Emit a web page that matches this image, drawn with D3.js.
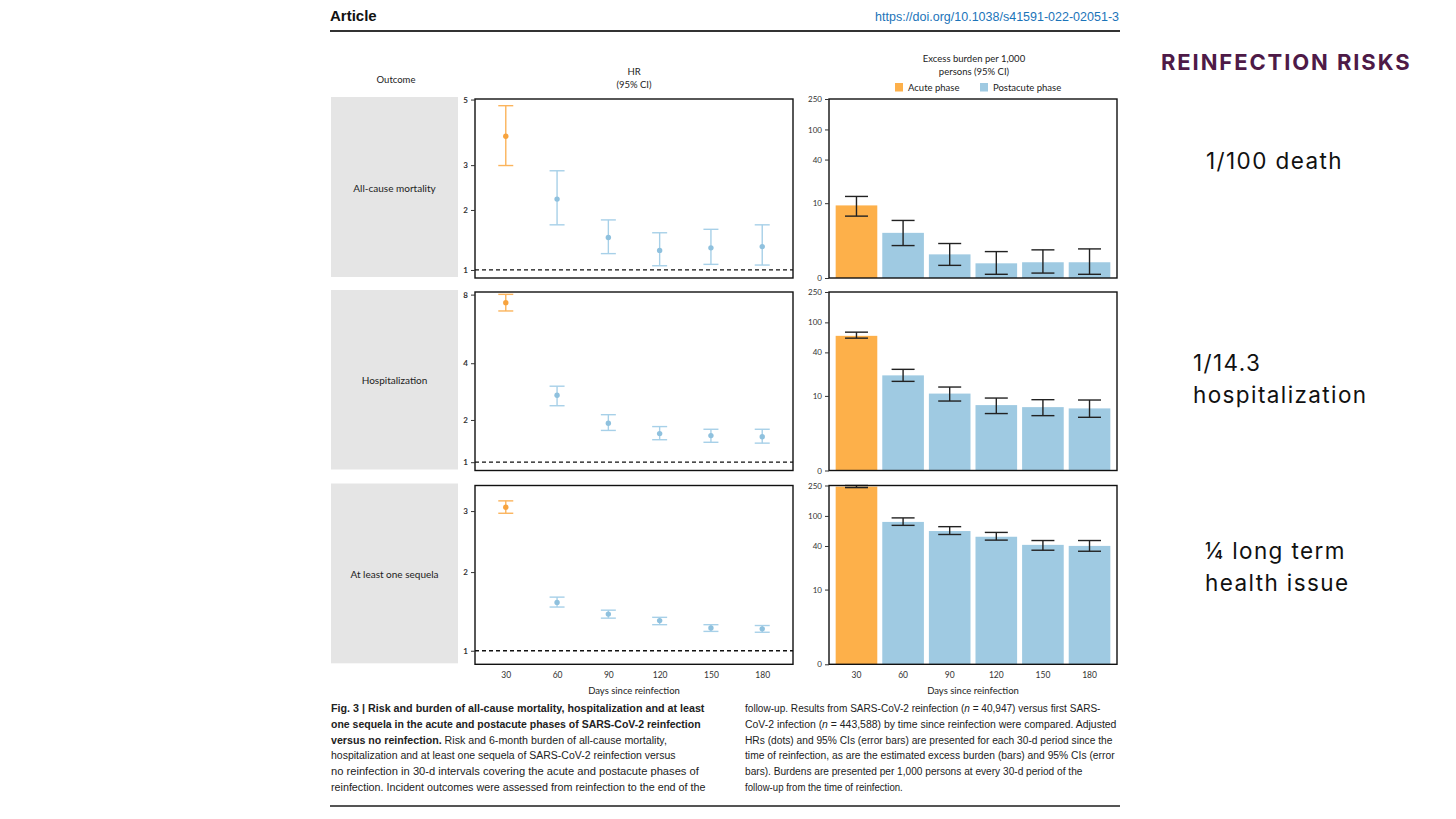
<!DOCTYPE html>
<html>
<head>
<meta charset="utf-8">
<script src="https://cdn.jsdelivr.net/npm/d3@7"></script>
<style>
  body { margin: 0; background: #fff; }
  svg { display: block; }
</style>
</head>
<body>
<svg id="chart"></svg>
<script>
const days = [30, 60, 90, 120, 150, 180];
const outcomes = ["All-cause mortality", "Hospitalization", "At least one sequela"];
const phases = ["Acute phase", "Postacute phase"];

// adjusted HRs (dots) and 95% CIs
const hrMortality     = [3.79, 2.22, 1.50, 1.29, 1.33, 1.35];
const hrMortalityLow  = [2.99, 1.72, 1.24, 1.06, 1.08, 1.07];
const hrMortalityHigh = [4.78, 2.86, 1.81, 1.58, 1.64, 1.72];
const hrHosp     = [7.41, 2.76, 1.91, 1.64, 1.59, 1.56];
const hrHospLow  = [6.84, 2.42, 1.72, 1.49, 1.43, 1.41];
const hrHospHigh = [8.02, 3.08, 2.15, 1.82, 1.75, 1.75];
const hrSequela     = [3.07, 1.58, 1.43, 1.35, 1.26, 1.25];
const hrSequelaLow  = [2.96, 1.52, 1.38, 1.30, 1.22, 1.21];
const hrSequelaHigh = [3.19, 1.65, 1.48, 1.39, 1.30, 1.29];

// excess burden per 1,000 persons and 95% CIs
const burdenMortality     = [9.28, 3.42, 1.23, 0.66, 0.72, 0.72];
const burdenMortalityLow  = [6.41, 1.96, 0.55, 0.14, 0.19, 0.14];
const burdenMortalityHigh = [12.5, 5.49, 2.16, 1.44, 1.58, 1.66];
const burdenHosp     = [66.4, 19.5, 10.8, 7.3, 6.8, 6.5];
const burdenHospLow  = [61.9, 16.1, 8.4, 5.4, 5.0, 4.7];
const burdenHospHigh = [74.3, 23.6, 13.4, 9.3, 8.8, 8.7];
const burdenSequela     = [241.9, 83.4, 63.2, 53.1, 41.4, 40.1];
const burdenSequelaLow  = [234.7, 75.1, 56.9, 47.9, 35.1, 34.0];
const burdenSequelaHigh = [250, 94.2, 72.2, 60.6, 47.3, 47.3];

const hrTicks = [[1, 2, 3, 5], [1, 2, 4, 8], [1, 2, 3]];
const burdenTicks = [0, 10, 40, 100, 250];

const rows = [
  { hr: hrMortality, lo: hrMortalityLow, hi: hrMortalityHigh,
    b: burdenMortality, bLo: burdenMortalityLow, bHi: burdenMortalityHigh },
  { hr: hrHosp, lo: hrHospLow, hi: hrHospHigh,
    b: burdenHosp, bLo: burdenHospLow, bHi: burdenHospHigh },
  { hr: hrSequela, lo: hrSequelaLow, hi: hrSequelaHigh,
    b: burdenSequela, bLo: burdenSequelaLow, bHi: burdenSequelaHigh }
];

// layout
const W = 1456, H = 819;
const rowTop = [99, 292, 485.5], rowBottom = [278, 470.5, 664.3];
const hrDomain = [[0.89, 5.02], [0.84, 8.2], [0.855, 3.49]];
const hrConst = [1.5, 1.5, 2];
const leftX0 = 475, leftX1 = 793, rightX0 = 829, rightX1 = 1117;
const orange = "#fdb04a", orangeLine = "#fbb45c";
const blue = "#9fcae2", blueDot = "#8fc1de", blueLine = "#a7d0e8";
const chartFont = "Lato, 'Noto Sans', sans-serif";

const svg = d3.select("#chart").attr("width", W).attr("height", H)
  .style("font-family", chartFont);

// header
svg.append("text").attr("x", 330).attr("y", 21)
  .style("font-family", "'Liberation Sans', sans-serif")
  .style("font-weight", "bold").style("font-size", "15px").attr("fill", "#111")
  .text("Article");
svg.append("text").attr("x", 1119).attr("y", 21).attr("text-anchor", "end")
  .style("font-family", "'Liberation Sans', sans-serif")
  .style("font-size", "12.5px").attr("fill", "#1b74b9")
  .text("https://doi.org/10.1038/s41591-022-02051-3");
svg.append("line").attr("x1", 330).attr("x2", 1120).attr("y1", 31).attr("y2", 31)
  .attr("stroke", "#333").attr("stroke-width", 2);

// column titles
const small = (sel) => sel.style("font-size", "9.5px").attr("fill", "#222");
small(svg.append("text").attr("x", 396).attr("y", 83).attr("text-anchor", "middle").text("Outcome"));
small(svg.append("text").attr("x", 634).attr("y", 75).attr("text-anchor", "middle").text("HR"));
small(svg.append("text").attr("x", 634).attr("y", 88).attr("text-anchor", "middle").text("(95% CI)"));
small(svg.append("text").attr("x", 974).attr("y", 62).attr("text-anchor", "middle").text("Excess burden per 1,000"));
small(svg.append("text").attr("x", 974).attr("y", 75).attr("text-anchor", "middle").text("persons (95% CI)"));

const legend = svg.append("g").attr("transform", "translate(895, 83)");
phases.forEach((p, i) => {
  const g = legend.append("g").attr("transform", `translate(${i * 85}, 0)`);
  g.append("rect").attr("width", 8).attr("height", 8.5).attr("fill", i === 0 ? orange : blue);
  small(g.append("text").attr("x", 13).attr("y", 8).text(p));
});

const xHr = d3.scaleLinear().domain([12, 198]).range([leftX0, leftX1]);
const xBar = d3.scaleBand().domain(days).range([rightX0, rightX1])
  .paddingInner(0.107).paddingOuter(0.143);

rows.forEach((r, k) => {
  const top = rowTop[k], bottom = rowBottom[k];

  // outcome label box
  svg.append("rect").attr("x", 331).attr("y", top - 2).attr("width", 127)
    .attr("height", bottom - top + 1).attr("fill", "#e5e5e5");
  svg.append("text").attr("x", 394.5).attr("y", (top + bottom) / 2 + 3)
    .attr("text-anchor", "middle").style("font-size", "10px").attr("fill", "#222")
    .text(outcomes[k]);

  // ---- HR panel
  const y = d3.scaleSymlog().constant(hrConst[k]).domain(hrDomain[k]).range([bottom, top]);
  const g = svg.append("g");

  g.append("line").attr("x1", leftX0).attr("x2", leftX1)
    .attr("y1", y(1)).attr("y2", y(1))
    .attr("stroke", "#111").attr("stroke-width", 1.3).attr("stroke-dasharray", "4,3");

  const pts = days.map((d, i) => ({ d, i, v: r.hr[i], lo: r.lo[i], hi: r.hi[i] }));
  const eb = g.selectAll(".hrerr").data(pts).enter().append("g")
    .attr("stroke", (p) => p.i === 0 ? orangeLine : blueLine).attr("stroke-width", 1.4);
  eb.append("line").attr("x1", (p) => xHr(p.d)).attr("x2", (p) => xHr(p.d))
    .attr("y1", (p) => y(p.lo)).attr("y2", (p) => y(p.hi));
  eb.append("line").attr("x1", (p) => xHr(p.d) - 7.5).attr("x2", (p) => xHr(p.d) + 7.5)
    .attr("y1", (p) => y(p.lo)).attr("y2", (p) => y(p.lo));
  eb.append("line").attr("x1", (p) => xHr(p.d) - 7.5).attr("x2", (p) => xHr(p.d) + 7.5)
    .attr("y1", (p) => y(p.hi)).attr("y2", (p) => y(p.hi));
  g.selectAll("circle").data(pts).enter().append("circle")
    .attr("cx", (p) => xHr(p.d)).attr("cy", (p) => y(p.v)).attr("r", 2.7)
    .attr("fill", (p) => p.i === 0 ? "#f7a33e" : blueDot);

  g.append("rect").attr("x", leftX0).attr("y", top).attr("width", leftX1 - leftX0)
    .attr("height", bottom - top).attr("fill", "none").attr("stroke", "#111").attr("stroke-width", 1.4);

  const ay = g.append("g").attr("transform", `translate(${leftX0},0)`)
    .call(d3.axisLeft(y).tickValues(hrTicks[k]).tickSize(4).tickFormat(d3.format("d")));
  ay.select(".domain").remove();
  ay.selectAll("text").style("font-size", "8px").style("font-family", chartFont)
    .style("font-weight", "bold").attr("fill", "#333");
  ay.selectAll("line").attr("stroke", "#333");

  // ---- burden panel
  const yb = d3.scaleSymlog().constant(1.2).domain([0, 250]).range([bottom, top]);
  const gb = svg.append("g");
  const bars = days.map((d, i) => ({ d, i, v: r.b[i], lo: r.bLo[i], hi: r.bHi[i] }));

  gb.selectAll("rect.bar").data(bars).enter().append("rect").attr("class", "bar")
    .attr("x", (p) => xBar(p.d)).attr("width", xBar.bandwidth())
    .attr("y", (p) => yb(p.v)).attr("height", (p) => yb(0) - yb(p.v))
    .attr("fill", (p) => p.i === 0 ? orange : blue);

  const be = gb.selectAll(".berr").data(bars).enter().append("g")
    .attr("stroke", "#222").attr("stroke-width", 1.4);
  const cx = (p) => xBar(p.d) + xBar.bandwidth() / 2;
  be.append("line").attr("x1", cx).attr("x2", cx)
    .attr("y1", (p) => yb(p.lo)).attr("y2", (p) => yb(p.hi));
  be.append("line").attr("x1", (p) => cx(p) - 11.5).attr("x2", (p) => cx(p) + 11.5)
    .attr("y1", (p) => yb(p.lo)).attr("y2", (p) => yb(p.lo));
  be.append("line").attr("x1", (p) => cx(p) - 11.5).attr("x2", (p) => cx(p) + 11.5)
    .attr("y1", (p) => yb(p.hi)).attr("y2", (p) => yb(p.hi));

  gb.append("rect").attr("x", rightX0).attr("y", top).attr("width", rightX1 - rightX0)
    .attr("height", bottom - top).attr("fill", "none").attr("stroke", "#111").attr("stroke-width", 1.4);

  const ab = gb.append("g").attr("transform", `translate(${rightX0},0)`)
    .call(d3.axisLeft(yb).tickValues(burdenTicks).tickSize(4).tickFormat(d3.format("d")));
  ab.select(".domain").remove();
  ab.selectAll("text").style("font-size", "8px").style("font-family", chartFont).attr("fill", "#333");
  ab.selectAll("line").attr("stroke", "#333");

  // x axes on the last row only
  if (k === rows.length - 1) {
    const xl = svg.append("g").attr("transform", `translate(0,${bottom})`)
      .call(d3.axisBottom(xHr).tickValues(days).tickSize(0).tickPadding(8));
    const xr = svg.append("g").attr("transform", `translate(0,${bottom})`)
      .call(d3.axisBottom(xBar).tickSize(0).tickPadding(8));
    [xl, xr].forEach((a) => {
      a.select(".domain").remove();
      a.selectAll("text").style("font-size", "8.5px").style("font-family", chartFont).attr("fill", "#333");
    });
    small(svg.append("text").attr("x", (leftX0 + leftX1) / 2).attr("y", 694)
      .attr("text-anchor", "middle").text("Days since reinfection"));
    small(svg.append("text").attr("x", (rightX0 + rightX1) / 2).attr("y", 694)
      .attr("text-anchor", "middle").text("Days since reinfection"));
  }
});

// caption: the journal face is condensed, so each line is squeezed to its width
const capFont = "'Liberation Sans', sans-serif";
const capLeft = [
  [["b", "Fig. 3 | Risk and burden of all-cause mortality, hospitalization and at least"]],
  [["b", "one sequela in the acute and postacute phases of SARS-CoV-2 reinfection"]],
  [["b", "versus no reinfection."], ["n", " Risk and 6-month burden of all-cause mortality,"]],
  [["n", "hospitalization and at least one sequela of SARS-CoV-2 reinfection versus"]],
  [["n", "no reinfection in 30-d intervals covering the acute and postacute phases of"]],
  [["n", "reinfection. Incident outcomes were assessed from reinfection to the end of the"]]
];
const capRight = [
  [["n", "follow-up. Results from SARS-CoV-2 reinfection ("], ["i", "n"], ["n", " = 40,947) versus first SARS-"]],
  [["n", "CoV-2 infection ("], ["i", "n"], ["n", " = 443,588) by time since reinfection were compared. Adjusted"]],
  [["n", "HRs (dots) and 95% CIs (error bars) are presented for each 30-d period since the"]],
  [["n", "time of reinfection, as are the estimated excess burden (bars) and 95% CIs (error"]],
  [["n", "bars). Burdens are presented per 1,000 persons at every 30-d period of the"]],
  [["n", "follow-up from the time of reinfection."]]
];
const leftWidths = [374, 370, 336, 345, 368, 375];
const rightWidths = [356, 372, 368, 370, 338, 158];
function caption(lines, x, widths) {
  lines.forEach((parts, i) => {
    const yy = 712 + i * 15.8;
    const t = svg.append("text")
      .style("font-family", capFont).style("font-size", "11.5px").attr("fill", "#222");
    parts.forEach(([s, txt]) => {
      t.append("tspan").text(txt)
        .style("font-weight", s === "b" ? "bold" : "normal")
        .style("font-style", s === "i" ? "italic" : "normal");
    });
    const natural = t.node().getComputedTextLength();
    t.attr("transform", `translate(${x},${yy}) scale(${widths[i] / natural},1)`);
  });
}
caption(capLeft, 331, leftWidths);
caption(capRight, 745, rightWidths);
svg.append("line").attr("x1", 330).attr("x2", 1120).attr("y1", 806).attr("y2", 806)
  .attr("stroke", "#555").attr("stroke-width", 2);

// side notes
const noteFont = "Inter, 'Noto Sans', sans-serif";
svg.append("text").attr("x", 1161).attr("y", 70)
  .style("font-family", noteFont).style("font-weight", "bold").style("font-size", "22px")
  .style("letter-spacing", "1.9px").attr("fill", "#4e1a47").text("REINFECTION RISKS");
const notes = [
  [1206, 169, "1/100 death"],
  [1193, 371, "1/14.3"],
  [1193, 403, "hospitalization"],
  [1205, 559, "\u00bc long term"],
  [1205, 591, "health issue"]
];
notes.forEach(([x, yy, t]) => {
  svg.append("text").attr("x", x).attr("y", yy)
    .style("font-family", noteFont).style("font-size", "22.5px")
    .style("letter-spacing", "1.4px").attr("fill", "#111").text(t);
});
</script>
</body>
</html>
